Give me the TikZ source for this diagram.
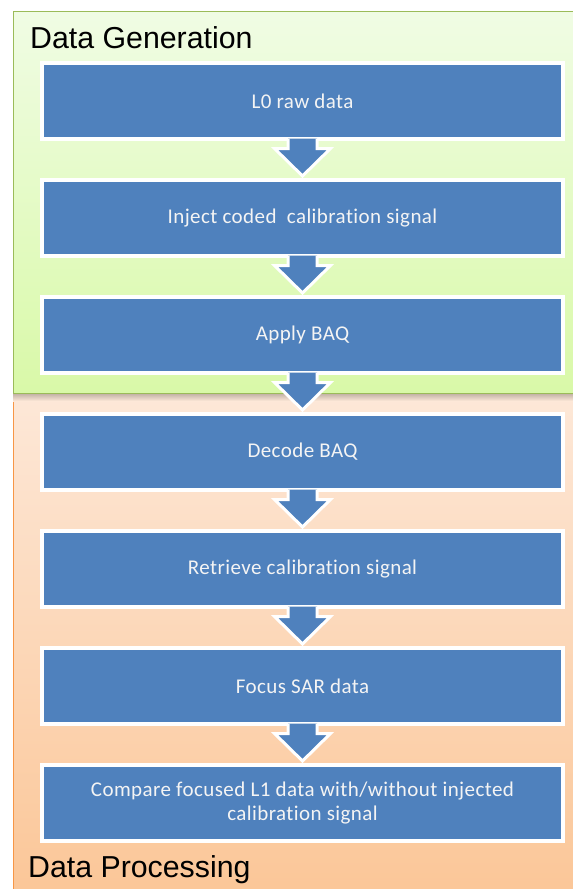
\documentclass[tikz,border=0pt]{standalone}
\usepackage{fontspec}
\setmainfont{Carlito}[Ligatures=NoCommon, LetterSpace=2]
\newfontfamily\titlefont{Liberation Sans}
\usetikzlibrary{calc}
\definecolor{boxblue}{HTML}{4F81BD}
\definecolor{gtop}{HTML}{F0FCE4}
\definecolor{gbot}{HTML}{D9F9A8}
\definecolor{gline}{HTML}{9BBB59}
\definecolor{otop}{HTML}{FDE8D8}
\definecolor{obot}{HTML}{FBC697}
\definecolor{oline}{HTML}{F79646}
\definecolor{boxtext}{HTML}{F4F4F4}
\tikzset{
  stepbox/.style={rectangle, fill=boxblue, draw=white, line width=4pt,
    minimum width=521pt, minimum height=76pt, inner sep=0pt,
    text=boxtext, font=\fontsize{21}{24}\selectfont, align=center},
  paneltitle/.style={anchor=base west, inner sep=0pt, font=\titlefont\fontsize{30.3}{34}\selectfont, text=black},
  flowarrow/.style={fill=boxblue, draw=white, line width=3pt, line join=miter}
}
\begin{document}
\begin{tikzpicture}[x=1pt,y=-1pt]
\useasboundingbox (0,0) rectangle (573,889);
% panels
\shade[top color=otop, bottom color=obot] (13,393) rectangle (580,900);
\draw[oline, line width=1pt] (13,393) -- (13,900);
\shade[top color=black!25!otop, bottom color=otop] (13,393) rectangle (580,401);
\shade[top color=gtop, bottom color=gbot] (13,11) rectangle (580,393);
\draw[gline, line width=1pt] (580,11) -- (13,11) -- (13,393) -- (580,393);
% titles
\node[paneltitle] (tgen) at (30,48) {Data Generation};
\node[paneltitle] (tproc) at (28,877) {Data Processing};
% boxes
\node[stepbox] (b1) at (302.5,101) {L0 raw data};
\node[stepbox] (b2) at (302.5,218) {Inject coded\ \ calibration signal};
\node[stepbox] (b3) at (302.5,335) {Apply BAQ};
\node[stepbox] (b4) at (302.5,452) {Decode BAQ};
\node[stepbox] (b5) at (302.5,569) {Retrieve calibration signal};
\node[stepbox] (b6) at (302.5,686) {Focus SAR data};
\node[stepbox] (b7) at (302.5,803) {Compare focused L1 data with/without injected\\calibration signal};
% arrows
\foreach \a/\b in {b1/b2,b2/b3,b3/b4,b4/b5,b5/b6,b6/b7}{
  \path[flowarrow] ($(\a.south)+(-14.5,-2.5)$) -- ($(\a.south)+(-14.5,7.5)$)
    -- ($(\a.south)+(-28,7.5)$) -- ($(\b.north)+(0,-2)$)
    -- ($(\a.south)+(28,7.5)$) -- ($(\a.south)+(14.5,7.5)$)
    -- ($(\a.south)+(14.5,-2.5)$);
}
\end{tikzpicture}
\end{document}
